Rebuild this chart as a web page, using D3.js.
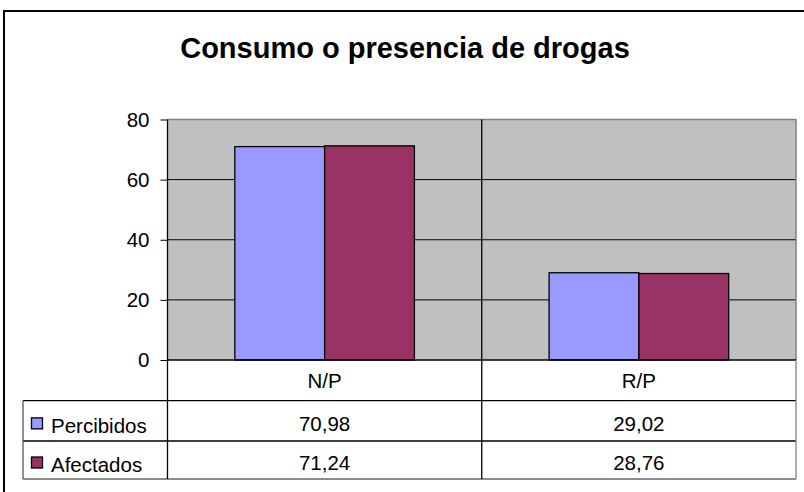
<!DOCTYPE html>
<html>
<head>
<meta charset="utf-8">
<script src="https://cdn.jsdelivr.net/npm/d3@7"></script>
<style>
  body { margin: 0; background: #fff; }
  svg { display: block; font-family: "Liberation Sans", Arial, sans-serif; }
</style>
</head>
<body>
<div id="chart"></div>
<script>
// donnees du graphique
var titre = "Consumo o presencia de drogas";
var categories = ["N/P", "R/P"];
var series = ["Percibidos", "Afectados"];
var percibidos = [70.98, 29.02];
var afectados = [71.24, 28.76];
var etiquettes = [["70,98", "29,02"], ["71,24", "28,76"]];
var couleurs = ["#9999ff", "#993366"];
var yTicks = [0, 20, 40, 60, 80];

var width = 804, height = 492;
var taille = 20.5;

// zone du graphique
var plotLeft = 167.5, plotRight = 796, plotTop = 119.5, plotBottom = 360;
var tableLeft = 23;
var rows = [360, 400.7, 441, 479];

var svg = d3.select("#chart").append("svg")
  .attr("width", width)
  .attr("height", height);

// cadre exterieur
svg.append("rect")
  .attr("x", 4).attr("y", 11)
  .attr("width", 820).attr("height", 520)
  .attr("fill", "#fff")
  .attr("stroke", "#000")
  .attr("stroke-width", 2);

svg.append("text")
  .attr("x", 405).attr("y", 58)
  .attr("text-anchor", "middle")
  .attr("font-size", 29)
  .attr("font-weight", "bold")
  .text(titre);

var y = d3.scaleLinear().domain([0, 80]).range([plotBottom, plotTop]);
var x0 = d3.scaleBand().domain(categories).range([plotLeft, plotRight]);
var x1 = d3.scaleBand().domain(series).range([0, x0.bandwidth()])
  .paddingInner(0).paddingOuter(0.75);

// fond gris
svg.append("rect")
  .attr("x", plotLeft).attr("y", plotTop)
  .attr("width", plotRight - plotLeft).attr("height", plotBottom - plotTop)
  .attr("fill", "#c0c0c0");

// lignes de grille
svg.append("g").selectAll("line")
  .data(yTicks.filter(function (d) { return d > 0 && d < 80; }))
  .enter().append("line")
  .attr("x1", plotLeft).attr("x2", plotRight)
  .attr("y1", function (d) { return y(d); })
  .attr("y2", function (d) { return y(d); })
  .attr("stroke", "#000").attr("stroke-width", 1);

// bordure haute / droite du fond
svg.append("path")
  .attr("d", "M" + plotLeft + "," + plotTop + "H" + plotRight + "V" + plotBottom)
  .attr("fill", "none").attr("stroke", "#808080").attr("stroke-width", 1.5);

// barres
var valeurs = [percibidos, afectados];
var groupes = svg.append("g").selectAll("g")
  .data(categories)
  .enter().append("g")
  .attr("transform", function (d) { return "translate(" + x0(d) + ",0)"; });

groupes.selectAll("rect")
  .data(function (c, i) {
    return series.map(function (s, j) { return { serie: s, valeur: valeurs[j][i], j: j }; });
  })
  .enter().append("rect")
  .attr("x", function (d) { return x1(d.serie); })
  .attr("y", function (d) { return y(d.valeur); })
  .attr("width", x1.bandwidth())
  .attr("height", function (d) { return plotBottom - y(d.valeur); })
  .attr("fill", function (d) { return couleurs[d.j]; })
  .attr("stroke", "#000").attr("stroke-width", 1.3);

// axe vertical
var axeY = svg.append("g")
  .attr("transform", "translate(" + plotLeft + ",0)")
  .call(d3.axisLeft(y).tickValues(yTicks).tickSize(7).tickPadding(11).tickSizeOuter(0));
axeY.select(".domain").remove();
axeY.selectAll("line").attr("stroke", "#000");
axeY.selectAll("text")
  .attr("font-size", taille)
  .attr("font-family", "Liberation Sans, Arial, sans-serif")
  .attr("fill", "#000");

// tableau de donnees
var table = svg.append("g").attr("stroke-width", 1.3).attr("fill", "none");
// lignes horizontales
rows.forEach(function (r, i) {
  table.append("line")
    .attr("x1", i === 0 ? plotLeft : tableLeft).attr("x2", plotRight)
    .attr("y1", r).attr("y2", r)
    .attr("stroke", i === rows.length - 1 ? "#666" : "#000");
});
// lignes verticales
table.append("line")
  .attr("x1", tableLeft).attr("x2", tableLeft)
  .attr("y1", rows[1]).attr("y2", rows[3]).attr("stroke", "#555");
[plotLeft, x0(categories[1])].forEach(function (xv) {
  table.append("line")
    .attr("x1", xv).attr("x2", xv)
    .attr("y1", plotTop).attr("y2", rows[3]).attr("stroke", "#000");
});
table.append("line")
  .attr("x1", plotRight).attr("x2", plotRight)
  .attr("y1", plotBottom).attr("y2", rows[3]).attr("stroke", "#808080");

// textes des categories
svg.append("g").selectAll("text")
  .data(categories)
  .enter().append("text")
  .attr("x", function (d) { return x0(d) + x0.bandwidth() / 2; })
  .attr("y", (rows[0] + rows[1]) / 2 + 8)
  .attr("text-anchor", "middle")
  .attr("font-size", taille)
  .text(function (d) { return d; });

// lignes des series
series.forEach(function (s, j) {
  var cy = (rows[j + 1] + rows[j + 2]) / 2;
  svg.append("rect")
    .attr("x", 31.5).attr("y", cy - 3)
    .attr("width", 11).attr("height", 11)
    .attr("fill", couleurs[j])
    .attr("stroke", "#000").attr("stroke-width", 1.3);
  svg.append("text")
    .attr("x", 51).attr("y", cy + 12)
    .attr("font-size", taille)
    .text(s);
  svg.append("g").selectAll("text")
    .data(categories)
    .enter().append("text")
    .attr("x", function (d) { return x0(d) + x0.bandwidth() / 2; })
    .attr("y", cy + 10)
    .attr("text-anchor", "middle")
    .attr("font-size", taille)
    .text(function (d, i) { return etiquettes[j][i]; });
});
</script>
</body>
</html>
